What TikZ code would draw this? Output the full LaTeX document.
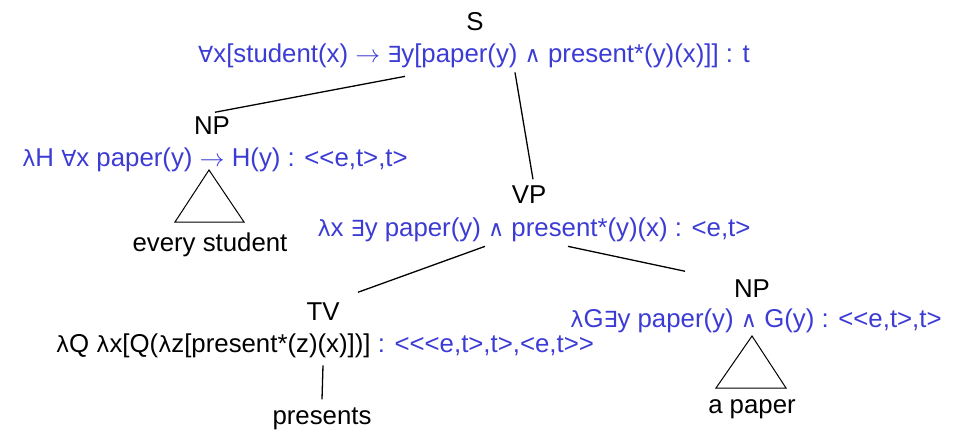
\documentclass[tikz,border=0pt]{standalone}
\usepackage{fontspec}
\setmainfont{Liberation Sans}
\newfontfamily\symf{DejaVu Sans}[Scale=0.86]
\newcommand{\Sy}[1]{{\symf #1}}
\newcommand{\lam}{\Sy{λ}}
\newcommand{\fa}{\Sy{∀}}
\newcommand{\ex}{\Sy{∃}}
\newcommand{\conj}{\Sy{∧}}
\newcommand{\impl}{\ensuremath{\rightarrow}}
% angle brackets kept apart so that << and >> are not joined into guillemets
\newcommand{\lt}{<\kern0pt}
\newcommand{\gt}{>\kern0pt}
\definecolor{semblue}{RGB}{60,60,212}
\begin{document}
\begin{tikzpicture}[x=1pt,y=-1pt,
  every node/.style={inner sep=0pt,outer sep=0pt,anchor=base,
    font=\fontsize{25.8}{30}\selectfont},
  cat/.style={text=black},
  sem/.style={text=semblue},
  word/.style={text=black},
  branch/.style={draw=black,line width=1.3pt},
  tri/.style={draw=black,line width=1pt,line join=miter}]
\useasboundingbox (0,0) rectangle (962,432);

% S
\node[cat] (s) at (475,30) {S};
\node[sem] (sf) at (474,62) {\fa x[student(x) \impl\ \ex y[paper(y) \conj\ present*(y)(x)]] : t};

% subject NP
\node[cat] (np1) at (212,134) {NP};
\node[sem] (np1f) at (215,166) {\lam H \fa x paper(y) \impl\ H(y) : \lt\lt e,t\gt,t\gt};
\coordinate (t1a) at (209,170);
\coordinate (t1l) at (175,222);
\coordinate (t1r) at (244,222);
\draw[tri] (t1a) -- (t1l) -- (t1r) -- cycle;
\node[word] (w1) at (210,251) {every student};

% VP
\node[cat] (vp) at (529,203) {VP};
\node[sem] (vpf) at (534,236) {\lam x \ex y paper(y) \conj\ present*(y)(x) : \lt e,t\gt};

% TV
\node[cat] (tv) at (323,320) {TV};
\node (tvf) at (325,352) {\lam Q \lam x[Q(\lam z[present*(z)(x)])] \textcolor{semblue}{: \lt\lt\lt e,t\gt,t\gt,\lt e,t\gt\gt}};
\node[word] (w2) at (322,424) {presents};

% object NP
\node[cat] (np2) at (752,297) {NP};
\node[sem] (np2f) at (756,327) {\lam G\ex y paper(y) \conj\ G(y) : \lt\lt e,t\gt,t\gt};
\coordinate (t2a) at (752,336);
\coordinate (t2l) at (716,388);
\coordinate (t2r) at (786,388);
\draw[tri] (t2a) -- (t2l) -- (t2r) -- cycle;
\node[word] (w3) at (752,413) {a paper};

% branches
\draw[branch] ([xshift=-69pt,yshift=-9pt]sf.south) -- ([xshift=3pt,yshift=4pt]np1.north);
\draw[branch] ([xshift=41pt,yshift=-5pt]sf.south) -- ([xshift=4pt,yshift=6pt]vp.north);
\draw[branch] ([xshift=-49pt,yshift=-5pt]vpf.south) -- ([xshift=35pt,yshift=10pt]tv.north);
\draw[branch] ([xshift=34pt,yshift=-5pt]vpf.south) -- ([xshift=-67pt,yshift=8pt]np2.north);
\draw[branch] ([xshift=-2pt,yshift=-8pt]tvf.south) -- ([yshift=8pt]w2.north);
\end{tikzpicture}
\end{document}
